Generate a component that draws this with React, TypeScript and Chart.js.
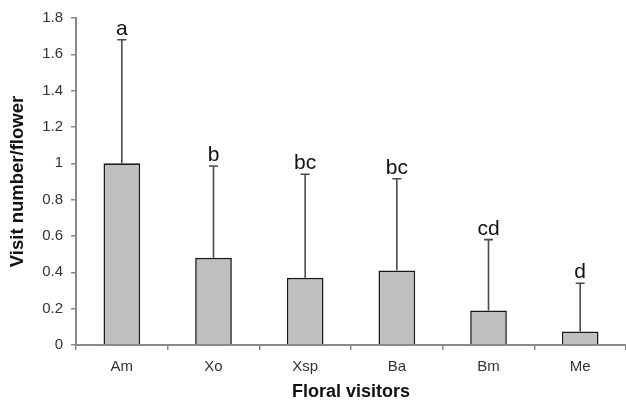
import React, { useEffect, useRef } from "react";
import { Chart, registerables } from "chart.js";

Chart.register(...registerables);

const categories = ["Am", "Xo", "Xsp", "Ba", "Bm", "Me"];
const means = [1.0, 0.48, 0.37, 0.41, 0.19, 0.075];
const errorTops = [1.68, 0.985, 0.94, 0.915, 0.58, 0.34];
const letters = ["a", "b", "bc", "bc", "cd", "d"];
const yMin = 0;
const yMax = 1.8;
const yStep = 0.2;

const FONT = "'Liberation Sans', Arial, sans-serif";

const errorBarPlugin = {
  id: "errorBars",
  afterDatasetsDraw(chart: any) {
    const ctx = chart.ctx;
    const meta = chart.getDatasetMeta(0);
    const yScale = chart.scales.y;
    ctx.save();
    meta.data.forEach((bar: any, i: number) => {
      const x = bar.x;
      const yTop = yScale.getPixelForValue(means[i]);
      const yErr = yScale.getPixelForValue(errorTops[i]);
      ctx.strokeStyle = "#4a4a4a";
      ctx.lineWidth = 1.6;
      ctx.beginPath();
      ctx.moveTo(x, yTop);
      ctx.lineTo(x, yErr);
      ctx.moveTo(x - 4.5, yErr);
      ctx.lineTo(x + 4.5, yErr);
      ctx.stroke();
      ctx.fillStyle = "#111";
      ctx.font = `21px ${FONT}`;
      ctx.textAlign = "center";
      ctx.textBaseline = "alphabetic";
      ctx.fillText(letters[i], x, yErr - 5);
    });
    ctx.restore();
  },
};

export default function App() {
  const ref = useRef<HTMLCanvasElement>(null);
  useEffect(() => {
    if (!ref.current) return;
    const chart = new Chart(ref.current, {
      type: "bar",
      data: {
        labels: categories,
        datasets: [
          {
            data: means,
            backgroundColor: "#c0c0c0",
            borderColor: "#1a1a1a",
            borderWidth: 1.6,
            borderSkipped: "bottom",
            categoryPercentage: 1,
            barPercentage: 0.4,
          },
        ],
      },
      options: {
        responsive: false,
        animation: false,
        layout: { padding: { top: 18, right: 0, left: 0, bottom: 0 } },
        plugins: { legend: { display: false }, tooltip: { enabled: false } },
        scales: {
          x: {
            grid: {
              display: true,
              drawOnChartArea: false,
              drawTicks: true,
              offset: true,
              tickLength: 5,
              color: "#888",
              lineWidth: 1.5,
            },
            border: { display: true, color: "#888", width: 2 },
            ticks: {
              color: "#333",
              font: { family: FONT, size: 15 },
              padding: 8,
              maxRotation: 0,
            },
            title: {
              display: true,
              text: "Floral visitors",
              color: "#111",
              font: { family: FONT, size: 18, weight: "bold" },
              padding: { top: 0, bottom: 1 },
            },
            afterFit: (scale: any) => {
              scale.height = 59;
            },
          },
          y: {
            min: yMin,
            max: yMax,
            grid: {
              display: true,
              drawOnChartArea: false,
              drawTicks: true,
              tickLength: 5,
              color: "#888",
              lineWidth: 1.5,
            },
            border: { display: true, color: "#888", width: 2 },
            ticks: {
              stepSize: yStep,
              color: "#333",
              font: { family: FONT, size: 15 },
              padding: 8,
              callback: (v: any) => String(Math.round(Number(v) * 10) / 10),
            },
            title: {
              display: true,
              text: "Visit number/flower",
              color: "#111",
              font: { family: FONT, size: 18.5, weight: "bold" },
              padding: { top: 7, bottom: 0 },
            },
            afterFit: (scale: any) => {
              scale.width = 76;
            },
          },
        },
      },
      plugins: [errorBarPlugin],
    });
    return () => chart.destroy();
  }, []);
  return (
    <div style={{ position: "absolute", left: 0, top: 0, width: 626, height: 404, background: "#fff" }}>
      <canvas ref={ref} width={626} height={404} />
    </div>
  );
}
